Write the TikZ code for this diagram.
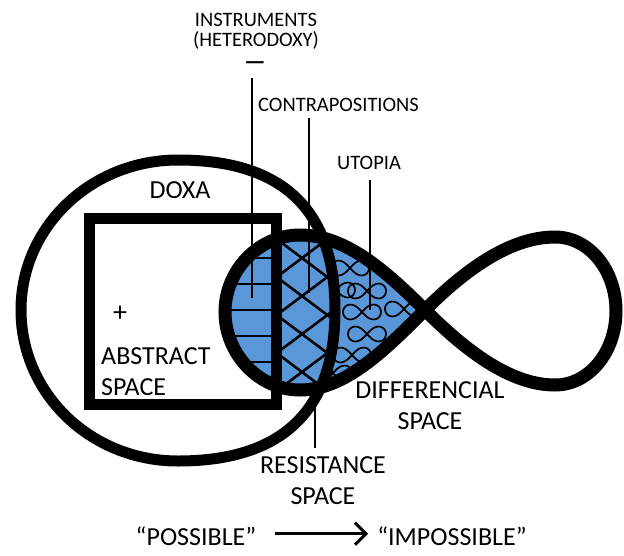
\documentclass[tikz,border=0pt]{standalone}
\usepackage{fontspec}
\setmainfont{Carlito}
\usetikzlibrary{arrows.meta}
\definecolor{lobeblue}{RGB}{90,151,216}
\begin{document}
\begin{tikzpicture}[x=1pt,y=-1pt,
  bigtxt/.style={font=\fontsize{26}{31}\selectfont, inner sep=0pt},
  smalltxt/.style={font=\fontsize{20.5}{20}\selectfont, inner sep=0pt},
  pointer/.style={line width=2.2pt},
  hatchline/.style={line width=2.6pt},
  loopline/.style={line width=1.7pt},
  doxaline/.style={line width=11pt},
  squareline/.style={line width=11pt, line join=miter},
  eightline/.style={line width=13pt, line join=round},
  arrowline/.style={line width=3pt, -{Straight Barb[length=11pt,width=22pt]}}
]
\useasboundingbox (0,0) rectangle (624,555);
\def\LobeShape{(425,310) .. controls (385,270) and (345,235) .. (300,235) .. controls (259,235) and (225,270) .. (225,312) .. controls (225,354) and (259,390) .. (300,390) .. controls (345,390) and (385,350) .. (425,310) -- cycle}
\def\DoxaShape{(21,310) .. controls (21,227) and (91,160) .. (178,160) .. controls (260,160) and (335,190) .. (335,310) .. controls (335,430) and (260,461) .. (178,461) .. controls (91,461) and (21,394) .. (21,310) -- cycle}

% blue left lobe
\fill[lobeblue] \LobeShape;

% horizontal hatching (instruments)
\begin{scope}
  \clip \LobeShape;
  \clip (200,200) rectangle (276,420);
  \foreach \yy in {258,284,310,336,362}
    \draw[hatchline] (200,\yy) -- (276,\yy);
\end{scope}

% cross hatching (contrapositions)
\begin{scope}
  \clip \LobeShape;
  \clip \DoxaShape;
  \clip (276,200) rectangle (400,420);
  \foreach \k in {-5,...,5} {
    \draw[hatchline] (242,{258+38*\k-45}) -- ++(120,90);
    \draw[hatchline] (242,{258+38*\k+45}) -- ++(120,-90);
  }
\end{scope}

% small loops (utopia)
\begin{scope}[even odd rule]
  \clip \LobeShape;
  \clip (0,0) rectangle (624,555) \DoxaShape;
  \foreach \cx/\cy in {350/268,367/291,362/312,404/309,367/334,352/355,333/373,336/290}
    \draw[loopline] plot[domain=0:360, samples=90, smooth, variable=\t]
      ({\cx+19*cos(\t)/(1+sin(\t)^2)}, {\cy+21*sin(\t)*cos(\t)/(1+sin(\t)^2)});
\end{scope}

% pointer lines
\coordinate (instrTop) at (252,78);
\coordinate (instrEnd) at (252,298);
\coordinate (contraTop) at (309,118);
\coordinate (contraEnd) at (309,293);
\coordinate (utoTop) at (370,180);
\coordinate (utoEnd) at (370,310);
\coordinate (resTop) at (315,396);
\coordinate (resEnd) at (315,448);
\draw[pointer] (instrTop) -- (instrEnd);
\draw[pointer] (contraTop) -- (contraEnd);
\draw[pointer] (utoTop) -- (utoEnd);
\draw[pointer] (resTop) -- (resEnd);

% abstract space square
\draw[squareline] (89,218) rectangle (276,404);

% doxa circle
\draw[doxaline] \DoxaShape;

% figure eight
\draw[eightline] (425,310) .. controls (385,270) and (345,235) .. (300,235)
  .. controls (259,235) and (225,270) .. (225,312)
  .. controls (225,354) and (259,390) .. (300,390)
  .. controls (345,390) and (385,350) .. (425,310)
  .. controls (465,270) and (510,237) .. (555,237)
  .. controls (589,237) and (616,270) .. (616,311)
  .. controls (616,352) and (589,385) .. (555,385)
  .. controls (510,385) and (465,350) .. (425,310) -- cycle;

% labels
\node[smalltxt, align=center, anchor=north] (instr) at (256,13) {INSTRUMENTS\\(HETERODOXY)};
\node[inner sep=0pt, font=\fontsize{24}{24}\selectfont\bfseries, anchor=base] (minus) at (255,69) {—};
\node[smalltxt, anchor=base west] (contra) at (258,111) {CONTRAPOSITIONS};
\node[smalltxt, anchor=base] (utopia) at (369,169) {UTOPIA};
\node[bigtxt, anchor=base] (doxa) at (180,198) {DOXA};
\node[inner sep=0pt, font=\fontsize{28}{28}\selectfont, anchor=base] (plus) at (120,321) {+};
\node[bigtxt, align=left, anchor=north west] (abstract) at (101,347) {ABSTRACT\\SPACE};
\node[bigtxt, align=center, anchor=north] (differencial) at (430,381) {DIFFERENCIAL\\SPACE};
\node[bigtxt, align=center, anchor=north] (resistance) at (323,456) {RESISTANCE\\SPACE};
\node[bigtxt, anchor=base] (possible) at (196,545) {“POSSIBLE”};
\node[bigtxt, anchor=base] (impossible) at (452,545) {“IMPOSSIBLE”};
\draw[arrowline] ([xshift=18pt,yshift=2pt]possible.east) -- ([xshift=-9pt,yshift=2pt]impossible.west);
\end{tikzpicture}
\end{document}
